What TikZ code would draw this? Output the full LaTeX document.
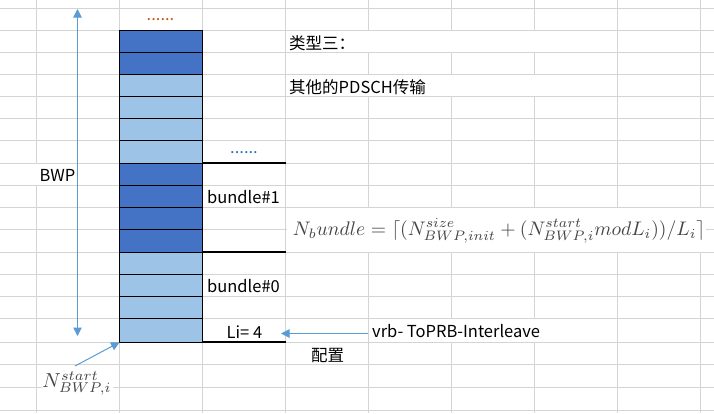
\documentclass[tikz,border=0pt]{standalone}
\usepackage{fontspec}
\setmainfont{Noto Sans CJK SC}
\usepackage{graphicx}
\usetikzlibrary{arrows.meta}
\definecolor{gridc}{HTML}{D4D4D4}
\definecolor{darkb}{HTML}{4472C4}
\definecolor{lightb}{HTML}{9DC3E6}
\definecolor{arrc}{HTML}{5B9BD5}
\definecolor{dotorange}{HTML}{C55A11}
\definecolor{dotblue}{HTML}{2E75B6}
\definecolor{mathc}{HTML}{454545}
\tikzset{
  gridline/.style={draw=gridc, line width=0.9pt},
  blockcell/.style={draw=black, line width=1pt},
  thickline/.style={draw=black, line width=1.8pt},
  bluearrow/.style={draw=arrc, line width=1pt},
  tip/.tip={Triangle[length=8.5pt,width=8.5pt]},
  lbl/.style={inner sep=0pt, font=\fontsize{16.5}{20}\selectfont},
}
\begin{document}
\begin{tikzpicture}[x=1pt,y=-1pt]
\useasboundingbox (0,0) rectangle (714,413);
\fill[white] (0,0) rectangle (714,413);
% spreadsheet grid
\foreach \x in {36,119.5,202.5,285.5,368.3,451,534,617,700}
  \draw[gridline] (\x,0) -- (\x,413);
\foreach \y in {8,30.3,52.3,74.3,96.3,118.5,140.7,163.3,185.3,207.3,229.5,252,274,296.3,318.7,342.3,364.5,387,410}
  \draw[gridline] (0,\y) -- (714,\y);
% cells whose text hides the grid
\fill[white] (286,30.8) rectangle (616.4,51.8);
\fill[white] (286,74.8) rectangle (616.4,95.8);
\fill[white] (0,163.8) rectangle (76,184.8);
\fill[white] (368.8,319.2) rectangle (616.4,341.8);
\fill[white] (287,208) rectangle (706,251.5);
\fill[white] (42,367) rectangle (112.5,400);
% resource blocks
\foreach \ya/\yb/\c in {30.3/52.3/darkb,52.3/74.3/darkb,74.3/96.3/lightb,96.3/118.5/lightb,118.5/140.7/lightb,140.7/163.3/lightb,163.3/185.3/darkb,185.3/207.3/darkb,207.3/229.5/darkb,229.5/252/darkb,252/274/lightb,274/296.3/lightb,296.3/318.7/lightb,318.7/342.3/lightb}
  \filldraw[blockcell, fill=\c] (119.5,\ya) rectangle (202.5,\yb);
% bundle separators
\draw[thickline] (202.5,163.3) -- (285.7,163.3);
\draw[thickline] (202.5,252) -- (285.7,252);
\draw[thickline] (202.5,342.3) -- (285.7,342.3);
% texts
\node[lbl, anchor=base, text=dotorange] (dotsTop) at (160.5,20) {......};
\node[lbl, anchor=base, text=dotblue] (dotsMid) at (244,153) {......};
\node[lbl, anchor=base west] (type3) at (289,49) {类型三：};
\node[lbl, anchor=base west] (other) at (289,93) {其他的PDSCH传输};
\node[lbl, anchor=base west] (bwp) at (39.5,181.7) {BWP};
\node[lbl, anchor=base west] (bd1) at (207,203) {bundle\#1};
\node[lbl, anchor=base west] (bd0) at (207,292.7) {bundle\#0};
\node[lbl, anchor=base] (li) at (244.5,338) {Li= 4};
\node[lbl, anchor=base west] (cfg) at (311,361) {配置};
\node[lbl, anchor=base west] (vrb) at (372,337.3) {vrb- ToPRB-Interleave};
\node[inner sep=0pt, text=mathc] (formula) at (499,231)
  {\resizebox{412pt}{!}{$N_bundle=\lceil(N^{size}_{BWP,init}+(N^{start}_{BWP,i}modL_i))/L_i\rceil$}};
\node[inner sep=0pt, text=mathc] (nstart) at (77,383.5)
  {\resizebox{69pt}{!}{$N^{start}_{BWP,i}$}};
% arrows
\coordinate (bwpTop) at (77.5,9);
\coordinate (bwpBot) at (77.5,336);
\coordinate (blockBL) at (119.5,342.3);
\coordinate (nArr) at (75,366);
\coordinate (vrbTail) at (368,333.5);
\coordinate (liTip) at (281,333.5);
\draw[bluearrow, tip-tip] (bwpTop) -- (bwpBot);
\draw[bluearrow, -tip] (nArr) -- (blockBL);
\draw[bluearrow, -tip] (vrbTail) -- (liTip);
\end{tikzpicture}
\end{document}
